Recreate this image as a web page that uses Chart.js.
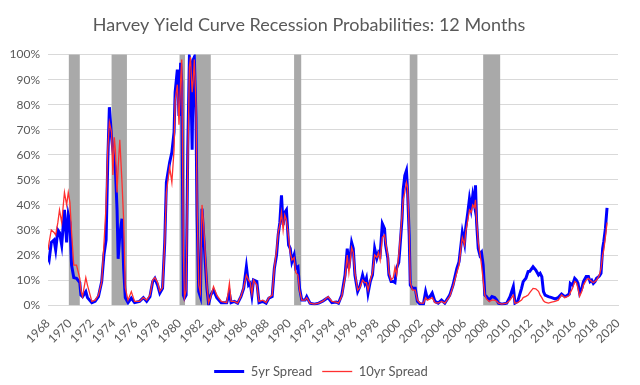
<!DOCTYPE html>
<html>
<head>
<meta charset="utf-8">
<script src="https://cdn.jsdelivr.net/npm/chart.js@4"></script>
<style>
  body { margin: 0; background: #fff; }
  #wrap { width: 640px; height: 385px; }
</style>
</head>
<body>
<div id="wrap"><canvas id="recChart"></canvas></div>
<script>
// time points (decimal years), shared by both series
var years = [
  1968.00, 1968.10, 1968.30, 1968.55, 1968.70, 1968.90, 1969.05, 1969.25, 1969.50, 1969.70,
  1969.85, 1970.00, 1970.15, 1970.35, 1970.60, 1970.90, 1971.00, 1971.15, 1971.45, 1971.60,
  1972.00, 1972.30, 1972.60, 1972.90, 1973.10, 1973.30, 1973.45, 1973.60, 1973.80, 1973.92,
  1974.05, 1974.15, 1974.30, 1974.40, 1974.55, 1974.75, 1974.90, 1975.05, 1975.30, 1975.60,
  1975.90, 1976.35, 1976.70, 1977.00, 1977.30, 1977.55, 1977.75, 1978.00, 1978.20, 1978.45,
  1978.65, 1978.80, 1978.95, 1979.10, 1979.30, 1979.50, 1979.60, 1979.80, 1979.95, 1980.10,
  1980.20, 1980.35, 1980.45, 1980.60, 1980.75, 1980.90, 1981.00, 1981.15, 1981.25, 1981.35,
  1981.50, 1981.60, 1981.75, 1981.90, 1982.05, 1982.20, 1982.35, 1982.50, 1982.65, 1982.85,
  1983.10, 1983.40, 1983.80, 1984.30, 1984.55, 1984.70, 1985.00, 1985.30, 1985.60, 1985.85,
  1986.10, 1986.30, 1986.45, 1986.60, 1986.75, 1987.05, 1987.25, 1987.60, 1987.90, 1988.15,
  1988.45, 1988.65, 1988.85, 1989.00, 1989.15, 1989.30, 1989.45, 1989.60, 1989.75, 1989.95,
  1990.10, 1990.25, 1990.45, 1990.60, 1990.80, 1990.95, 1991.15, 1991.45, 1991.60, 1991.90,
  1992.30, 1992.70, 1993.10, 1993.55, 1993.90, 1994.30, 1994.50, 1994.80, 1995.10, 1995.30,
  1995.45, 1995.70, 1995.85, 1996.00, 1996.25, 1996.45, 1996.70, 1996.90, 1997.05, 1997.20,
  1997.40, 1997.60, 1997.80, 1998.00, 1998.15, 1998.30, 1998.50, 1998.70, 1998.80, 1999.00,
  1999.10, 1999.30, 1999.50, 1999.65, 1999.80, 2000.00, 2000.10, 2000.30, 2000.40, 2000.55,
  2000.70, 2000.80, 2000.95, 2001.05, 2001.25, 2001.50, 2001.70, 2001.95, 2002.25, 2002.45,
  2002.60, 2002.85, 2003.05, 2003.30, 2003.60, 2003.90, 2004.20, 2004.65, 2004.95, 2005.30,
  2005.50, 2005.70, 2005.80, 2006.00, 2006.10, 2006.30, 2006.45, 2006.60, 2006.75, 2006.90,
  2007.00, 2007.10, 2007.25, 2007.40, 2007.55, 2007.70, 2007.85, 2008.00, 2008.25, 2008.50,
  2008.75, 2008.95, 2009.10, 2009.40, 2009.85, 2010.15, 2010.45, 2010.60, 2010.85, 2011.20,
  2011.35, 2011.60, 2011.80, 2011.95, 2012.25, 2012.50, 2012.75, 2012.90, 2013.05, 2013.20,
  2013.35, 2013.65, 2013.95, 2014.25, 2014.55, 2014.85, 2015.15, 2015.35, 2015.55, 2015.65,
  2015.85, 2016.05, 2016.20, 2016.35, 2016.50, 2016.70, 2016.85, 2017.10, 2017.30, 2017.45,
  2017.60, 2017.75, 2017.90, 2018.05, 2018.30, 2018.45, 2018.60, 2018.70, 2018.85, 2019.00
];

// recession probability, %
var fiveYr = [
  19, 18, 25, 26, 22, 30, 29, 24, 38, 25,
  36, 33, 16, 11, 10.7, 9, 4, 3.4, 5.4, 3,
  1, 1.5, 3.4, 9.4, 20, 26, 57, 79, 67, 62,
  57, 54, 38, 18.5, 28, 34.5, 14.7, 3, 1, 2.8,
  1, 1.5, 3, 1.5, 3.4, 9.4, 10.7, 8, 4.8, 6.7,
  25, 49, 53, 57, 61, 69, 85, 94, 75.5, 96.7,
  89, 4, 2.8, 4, 62, 99, 96.7, 62, 98, 99,
  75, 36, 5.4, 3.4, 38.5, 28, 17, 6.7, 0.5, 4,
  6, 3, 1, 1, 4.8, 1, 1.5, 0.8, 3.4, 6.7,
  15.3, 8, 8.7, 4, 10, 9.4, 1, 1.5, 0.8, 2.8,
  3.4, 14.7, 20, 28, 33, 43.8, 32, 37, 38, 24,
  22.6, 17.3, 20, 14.7, 15.3, 6.7, 2, 2, 3.4, 0.8,
  0.4, 0.8, 1.7, 3, 1, 1.2, 0.8, 4, 12, 22.6,
  14.7, 25, 22.6, 12, 5.4, 7.4, 12, 8.7, 10.7, 4.8,
  9.4, 12, 22.6, 18.7, 21, 20, 32.5, 30.5, 24, 18.7,
  12, 9.4, 9.4, 9, 14.7, 17, 22.6, 34.5, 46, 51.7,
  53.7, 46, 28, 8, 6.7, 6.7, 1.5, 0.4, 0.4, 5.4,
  2.8, 3.4, 4.8, 1.5, 0.8, 2, 0.8, 4, 8, 14.7,
  17.3, 25, 29, 24.6, 30.5, 37, 42.5, 38.5, 43.8, 40,
  47.8, 33, 22.6, 20, 21, 16, 4, 3.4, 2, 3.4,
  3, 2, 0.8, 0.4, 0.8, 3.4, 7.4, 0.8, 1.5, 6.7,
  9.4, 10.7, 13.4, 13.5, 15.3, 14, 12, 12.7, 11.4, 5.4,
  4, 3.4, 3, 2.5, 3, 4.4, 3.4, 3.8, 4.4, 8.7,
  8, 10.7, 10, 8.7, 4.8, 6.7, 9.4, 11.4, 11.4, 9.4,
  10, 8.7, 9.4, 10.7, 11.6, 12.7, 22.6, 25.3, 30.5, 38.8
];

var tenYr = [
  22, 25, 30, 29, 28, 33, 38, 33, 45, 40,
  45, 41, 29, 16, 16, 10.7, 6, 3.5, 11, 8,
  1.5, 2, 4, 9.4, 24, 40, 62, 73, 69, 52,
  67, 62, 45, 55, 66, 49, 34, 7, 2, 5.4,
  1.5, 1.5, 3, 2, 4, 10, 11, 9, 5.5, 7,
  25, 45, 50, 55, 49, 62, 82, 88, 72, 90,
  98, 20, 3, 6, 55, 95, 99, 85, 90, 98,
  80, 40, 8, 5, 40, 32, 20, 8, 1, 3.5,
  7.4, 4, 1.5, 1, 8.7, 1.5, 1.5, 0.8, 3.5, 7,
  12, 10, 9, 4.5, 10, 8, 1.5, 2, 1, 3,
  4, 15, 22, 29, 32, 37, 30, 36, 34, 27,
  21, 18, 19, 13, 12, 6, 2, 2, 3, 0.8,
  0.4, 0.8, 1.7, 3.4, 1.5, 1.2, 0.8, 3.5, 11, 20,
  13, 23, 21, 13, 6, 7, 10, 9, 9, 6,
  10, 13, 20, 19, 21, 18, 27, 28, 25, 20,
  13, 10, 11, 15, 12, 20, 25, 36, 42, 45,
  49, 47, 30, 9, 6, 6, 2, 0.8, 0.8, 3,
  2, 2.5, 3, 1, 0.8, 1.5, 0.8, 3.5, 7.5, 13,
  16, 24, 27, 24, 29, 34, 38, 37, 40, 39,
  42, 34, 25, 21, 16, 10, 4, 2.5, 1.5, 2,
  2, 1.5, 0.8, 0.4, 0.8, 2, 4, 0.8, 1, 2,
  3, 3.5, 4, 5, 6.7, 6.5, 5.5, 4, 3, 1.7,
  1.2, 0.8, 1.2, 1.5, 2, 4.1, 3, 3.4, 3.8, 5,
  6.7, 9.4, 9, 6.7, 3.5, 5.5, 8, 10, 10.7, 10,
  9.4, 9, 9.4, 10, 12, 14.7, 20, 22, 27, 33
];

// NBER recessions as drawn in the grey bands
var recStart = [1969.9, 1973.8, 1980.0, 1981.45, 1990.45, 2001.0, 2007.7];
var recEnd   = [1970.9, 1975.2, 1980.5, 1982.85, 1991.1, 2001.7, 2009.25];

var txtColor = '#595959';
var fontFam = 'Lato, "Open Sans", sans-serif';

function pairs(vals) {
  return years.map(function (yr, i) { return { x: yr, y: vals[i] }; });
}

// grey recession bands behind the lines
var recessionShade = {
  id: 'recessionShade',
  beforeDatasetsDraw: function (chart) {
    var ctx = chart.ctx, area = chart.chartArea, xs = chart.scales.x;
    ctx.save();
    ctx.fillStyle = '#a9a9a9';
    for (var i = 0; i < recStart.length; i++) {
      var x0 = xs.getPixelForValue(recStart[i]);
      var x1 = xs.getPixelForValue(recEnd[i]);
      ctx.fillRect(x0, area.top, x1 - x0, area.bottom - area.top);
    }
    ctx.restore();
  }
};

// legend in the original sits a little right of centre and lower
var legendNudge = {
  id: 'legendNudge',
  afterLayout: function (chart) {
    chart.legend.left += 12;
    chart.legend.right += 12;
    chart.legend.top += 3;
    chart.legend.bottom += 3;
  }
};

var ctx = document.getElementById('recChart').getContext('2d');
var recChart = new Chart(ctx, {
  type: 'line',
  data: {
    datasets: [
      {
        label: '5yr Spread',
        data: pairs(fiveYr),
        borderColor: '#0000ff',
        backgroundColor: '#0000ff',
        borderWidth: 3,
        pointRadius: 0,
        order: 1
      },
      {
        label: '10yr Spread',
        data: pairs(tenYr),
        borderColor: '#ff3030',
        backgroundColor: '#ff3030',
        borderWidth: 1.3,
        pointRadius: 0,
        order: 0
      }
    ]
  },
  options: {
    responsive: true,
    maintainAspectRatio: false,
    animation: false,
    layout: { padding: { left: 0, right: 22, top: 6, bottom: 0 } },
    plugins: {
      title: {
        display: true,
        text: 'Harvey Yield Curve Recession Probabilities: 12 Months',
        color: txtColor,
        font: { family: fontFam, size: 18, weight: 'normal' },
        padding: { top: 8, bottom: 19 }
      },
      legend: {
        position: 'bottom',
        labels: {
          color: txtColor,
          font: { family: fontFam, size: 13 },
          usePointStyle: true,
          pointStyle: 'line',
          pointStyleWidth: 30,
          padding: 10,
          sort: function (a, b) { return a.datasetIndex - b.datasetIndex; }
        }
      },
      tooltip: { enabled: false }
    },
    scales: {
      x: {
        type: 'linear',
        min: 1968,
        max: 2020,
        afterFit: function (s) { s.height += 3; },
        grid: { display: false },
        border: { color: '#d9d9d9' },
        ticks: {
          stepSize: 2,
          autoSkip: false,
          maxRotation: 45,
          minRotation: 45,
          color: txtColor,
          font: { family: fontFam, size: 12 },
          callback: function (v) { return String(v); }
        }
      },
      y: {
        min: 0,
        max: 100,
        afterFit: function (s) { s.width = 48; },
        grid: { color: '#d9d9d9', drawTicks: false },
        border: { display: false },
        ticks: {
          stepSize: 10,
          padding: 8,
          color: txtColor,
          font: { family: fontFam, size: 12 },
          callback: function (v) { return v + '%'; }
        }
      }
    }
  },
  plugins: [recessionShade, legendNudge]
});
</script>
</body>
</html>
